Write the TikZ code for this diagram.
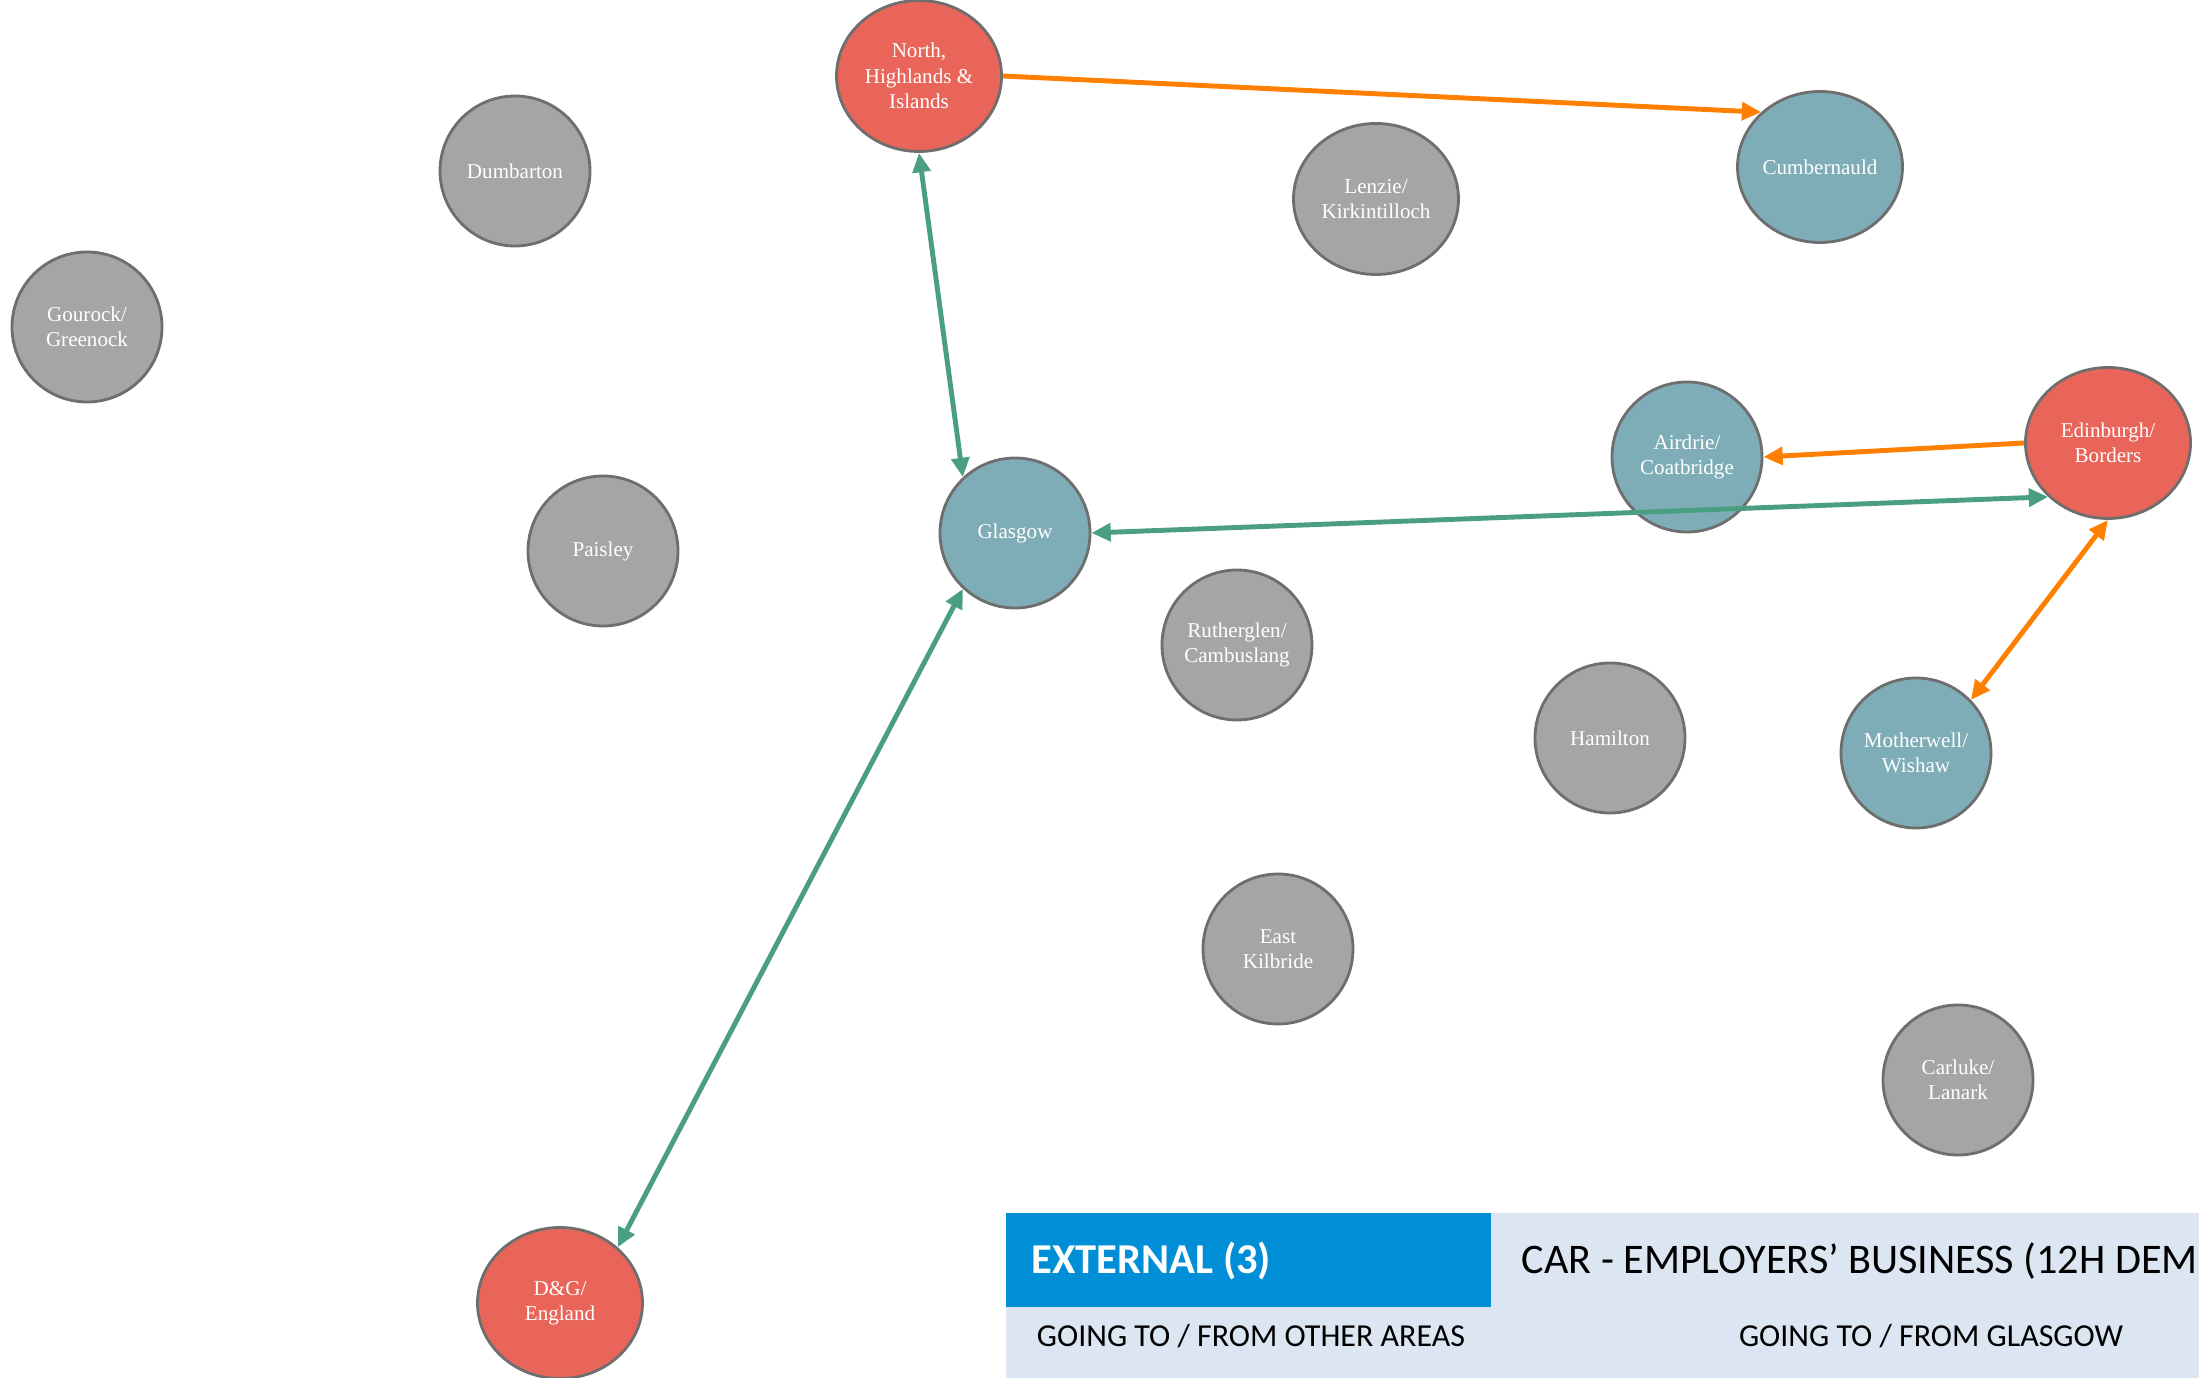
\documentclass[tikz,border=0pt]{standalone}
\usepackage{fontspec}
\setmainfont{Liberation Serif}
\newfontfamily\legendfont{Carlito}
\usetikzlibrary{arrows.meta,shapes.geometric}
\definecolor{placegrey}{HTML}{A5A5A5}
\definecolor{placeteal}{HTML}{7FADB7}
\definecolor{placered}{HTML}{EA6559}
\definecolor{rimgrey}{HTML}{6E6E6E}
\definecolor{flowgreen}{HTML}{4A9E82}
\definecolor{floworange}{HTML}{FF7F00}
\definecolor{keyblue}{HTML}{008ED6}
\definecolor{keylight}{HTML}{DCE6F2}

\begin{document}
\begin{tikzpicture}[
  place/.style={ellipse, draw=rimgrey, line width=0.8pt, inner sep=0pt,
    minimum width=1.5cm, minimum height=1.5cm, text=white, align=center,
    font=\fontsize{6}{7.2}\selectfont},
  wide/.style={minimum width=1.65cm, minimum height=1.51cm},
  other/.style={place, fill=placegrey},
  local/.style={place, fill=placeteal},
  external/.style={place, fill=placered, wide},
  green flow/.style={draw=flowgreen, line width=1.4pt, {Triangle[length=5.5pt,width=5pt]}-{Triangle[length=5.5pt,width=5pt]}},
  orange flow/.style={draw=floworange, line width=1.4pt, -{Triangle[length=5.5pt,width=5pt]}},
  orange both/.style={orange flow, {Triangle[length=5.5pt,width=5pt]}-{Triangle[length=5.5pt,width=5pt]}}
]
\useasboundingbox (0,0) rectangle (21.99,-13.78);

% places
\node[external] (north) at (9.19,-0.76) {North,\\Highlands \&\\Islands};
\node[other] (dumbarton) at (5.15,-1.71) {Dumbarton};
\node[other, wide] (lenzie) at (13.76,-1.99) {Lenzie/\\Kirkintilloch};
\node[local, wide] (cumbernauld) at (18.20,-1.67) {Cumbernauld};
\node[other] (gourock) at (0.87,-3.27) {Gourock/\\Greenock};
\node[local] (airdrie) at (16.87,-4.57) {Airdrie/\\Coatbridge};
\node[external] (edinburgh) at (21.08,-4.43) {Edinburgh/\\Borders};
\node[other] (paisley) at (6.03,-5.51) {Paisley};
\node[local] (glasgow) at (10.15,-5.33) {Glasgow};
\node[other] (rutherglen) at (12.37,-6.45) {Rutherglen/\\Cambuslang};
\node[other] (hamilton) at (16.10,-7.38) {Hamilton};
\node[local] (motherwell) at (19.16,-7.53) {Motherwell/\\Wishaw};
\node[other] (kilbride) at (12.78,-9.49) {East\\Kilbride};
\node[other] (carluke) at (19.58,-10.80) {Carluke/\\Lanark};
\node[external] (dandg) at (5.60,-13.03) {D\&G/\\England};

% flows
\draw[orange flow] (north.east) to (cumbernauld.137);
\draw[green flow] (north.south) to (glasgow.133);
\draw[green flow] (glasgow.east) to (edinburgh.222);
\draw[orange flow] (edinburgh.west) to (airdrie.east);
\draw[orange both] (edinburgh.south) to (motherwell.44);
\draw[green flow] (glasgow.227) to (dandg.44);

% key
\fill[keylight] (10.055,-12.13) rectangle (21.99,-13.78);
\fill[keyblue] (10.055,-12.13) rectangle (14.908,-13.07);
\node[anchor=west, inner sep=0pt, text=white, font=\legendfont\bfseries\fontsize{12.1}{15}\selectfont] (keytitle) at (10.31,-12.61) {EXTERNAL (3)};
\node[anchor=west, inner sep=0pt, font=\legendfont\fontsize{12}{15}\selectfont] (keymode) at (15.21,-12.61) {CAR - EMPLOYERS’ BUSINESS (12H DEM};
\node[font=\legendfont\fontsize{9.1}{11}\selectfont] (keyother) at (12.51,-13.365) {GOING TO / FROM OTHER AREAS};
\node[font=\legendfont\fontsize{9.1}{11}\selectfont] (keyglasgow) at (19.31,-13.365) {GOING TO / FROM GLASGOW};
\end{tikzpicture}
\end{document}
